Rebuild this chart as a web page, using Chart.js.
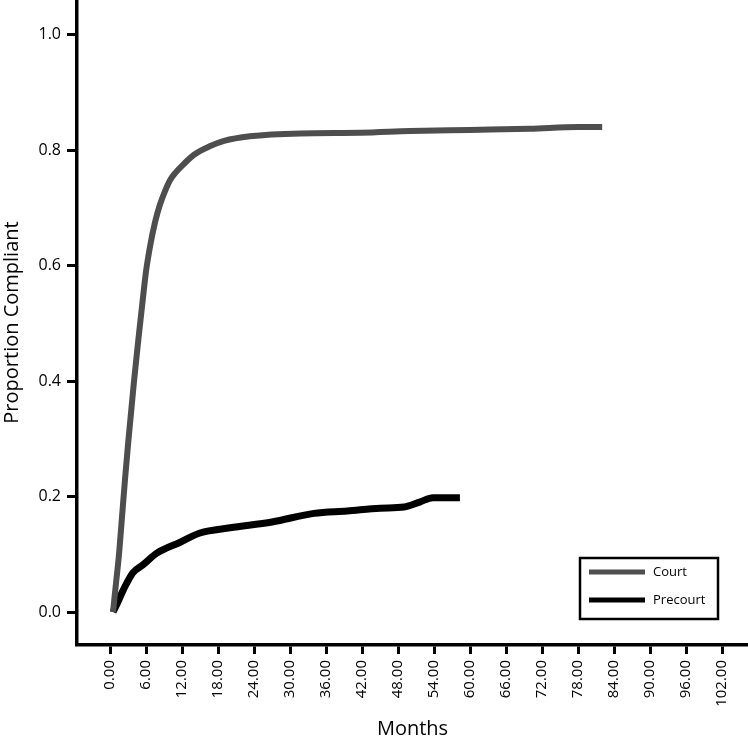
<!DOCTYPE html>
<html>
<head>
<meta charset="utf-8">
<script src="https://cdn.jsdelivr.net/npm/chart.js@4"></script>
<style>
  html, body { margin: 0; padding: 0; background: #fff; }
  #wrap { width: 748px; height: 741px; }
</style>
</head>
<body>
<div id="wrap"><canvas id="c" width="748" height="741"></canvas></div>
<script>
const courtMonths = [0.5, 1.0, 1.5, 2.0, 2.5, 3.0, 3.5, 4.0, 4.7, 5.5, 6.0, 6.7, 7.5, 8.3, 9.2, 10.0, 11.0, 12.2, 14.0, 16.7, 19.0, 23.3, 31.7, 41.7, 50.0, 60.0, 70.0, 78.0, 82.0];
const courtValues = [0.0, 0.05, 0.10, 0.165, 0.23, 0.29, 0.345, 0.40, 0.47, 0.545, 0.59, 0.635, 0.675, 0.705, 0.73, 0.748, 0.762, 0.775, 0.792, 0.807, 0.816, 0.824, 0.829, 0.830, 0.833, 0.835, 0.837, 0.840, 0.840];
const precourtMonths = [0.5, 1.2, 2.2, 3.8, 5.5, 7.8, 11.7, 15.0, 20.0, 27.0, 34.0, 39.5, 45.0, 49.0, 51.7, 53.8, 58.3];
const precourtValues = [0.0, 0.015, 0.038, 0.068, 0.082, 0.102, 0.121, 0.137, 0.146, 0.156, 0.171, 0.175, 0.180, 0.182, 0.191, 0.198, 0.198];
const xTickValues = [0, 6, 12, 18, 24, 30, 36, 42, 48, 54, 60, 66, 72, 78, 84, 90, 96, 102];
const yTickValues = [0.0, 0.2, 0.4, 0.6, 0.8, 1.0];
const seriesLabels = ['Court', 'Precourt'];

const FONT = "'Open Sans', 'Noto Sans', sans-serif";

function toXY(xs, ys) { return xs.map((x, i) => ({ x: x, y: ys[i] })); }

const legendBox = {
  id: 'legendBox',
  afterDraw(chart) {
    const ctx = chart.ctx;
    ctx.save();
    ctx.lineWidth = 2.5;
    ctx.strokeStyle = '#000';
    ctx.strokeRect(580, 558, 138, 61);
    chart.data.datasets.forEach((ds, i) => {
      const y = 572 + i * 28;
      ctx.beginPath();
      ctx.lineWidth = 5;
      ctx.strokeStyle = ds.borderColor;
      ctx.moveTo(589, y);
      ctx.lineTo(645, y);
      ctx.stroke();
      ctx.fillStyle = '#000';
      ctx.font = "13px " + FONT;
      ctx.textBaseline = 'middle';
      ctx.textAlign = 'left';
      ctx.fillText(ds.label, 653, y);
    });
    ctx.restore();
  }
};

new Chart(document.getElementById('c'), {
  type: 'line',
  data: {
    datasets: [
      {
        label: seriesLabels[0],
        data: toXY(courtMonths, courtValues),
        borderColor: '#4e4e4e',
        borderWidth: 6,
        pointRadius: 0,
        cubicInterpolationMode: 'monotone',
        fill: false
      },
      {
        label: seriesLabels[1],
        data: toXY(precourtMonths, precourtValues),
        borderColor: '#000000',
        borderWidth: 7,
        pointRadius: 0,
        cubicInterpolationMode: 'monotone',
        fill: false
      }
    ]
  },
  options: {
    responsive: false,
    animation: false,
    devicePixelRatio: 1,
    layout: { padding: 0 },
    plugins: {
      legend: { display: false },
      tooltip: { enabled: false }
    },
    scales: {
      x: {
        type: 'linear',
        min: -5.5,
        max: 106.3,
        afterBuildTicks(scale) { scale.ticks = xTickValues.map(v => ({ value: v })); },
        afterFit(scale) { scale.height = 96; scale.paddingLeft = 0; scale.paddingRight = 0; },
        grid: { display: true, drawOnChartArea: false, drawTicks: true, tickLength: 9, tickWidth: 3, tickColor: '#000' },
        border: { display: true, color: '#000', width: 3.5 },
        ticks: {
          color: '#000',
          font: { family: FONT, size: 15 },
          minRotation: 90,
          maxRotation: 90,
          padding: 6,
          autoSkip: false,
          callback: v => Number(v).toFixed(2)
        },
        title: {
          display: true,
          text: 'Months',
          color: '#000',
          font: { family: FONT, size: 20 },
          padding: { top: 0, bottom: 0 }
        }
      },
      y: {
        type: 'linear',
        min: -0.057,
        max: 1.06,
        afterBuildTicks(scale) { scale.ticks = yTickValues.map(v => ({ value: v })); },
        afterFit(scale) { scale.width = 77; scale.paddingTop = 0; scale.paddingBottom = 0; },
        grid: { display: true, drawOnChartArea: false, drawTicks: true, tickLength: 10, tickWidth: 3, tickColor: '#000' },
        border: { display: true, color: '#000', width: 3.5 },
        ticks: {
          color: '#000',
          font: { family: FONT, size: 16 },
          padding: 6,
          callback: v => Number(v).toFixed(1)
        },
        title: {
          display: true,
          text: 'Proportion Compliant',
          color: '#000',
          font: { family: FONT, size: 20 },
          padding: { top: 0, bottom: 0 }
        }
      }
    }
  },
  plugins: [legendBox]
});
</script>
</body>
</html>
